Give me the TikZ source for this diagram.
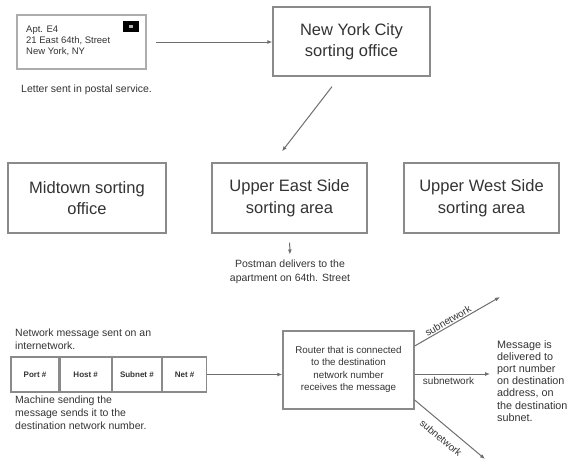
\documentclass[tikz,border=0pt]{standalone}
\usepackage{fontspec}
\setmainfont{Liberation Sans}
\usetikzlibrary{arrows.meta}
\definecolor{txt}{HTML}{333333}
\definecolor{bord}{HTML}{8A8A8A}
\tikzset{
  bigbox/.style={draw=bord, line width=1.3pt, text=txt, align=center, inner sep=0pt,
    font=\fontsize{16.5}{21.5}\selectfont},
  smalltext/.style={text=txt, align=left, inner sep=0pt, font=\fontsize{10.5}{13}\selectfont},
  cell/.style={draw=bord, line width=1.2pt, text=txt, inner sep=0pt, font=\bfseries\fontsize{8}{10}\selectfont},
  arr/.style={draw=bord!80!black, line width=1pt, -{Latex[length=5pt,width=4pt]}},
  lbl/.style={text=txt, inner sep=1pt, font=\fontsize{10}{12}\selectfont}
}
\begin{document}
\begin{tikzpicture}[x=1pt,y=-1pt]
\useasboundingbox (0,0) rectangle (571,461);
% letter
\node[draw=bord!70, line width=1.3pt, minimum width=129pt, minimum height=54pt, inner sep=0pt] (letter) at (81.5,42) {};
\node[fill=black, minimum width=16pt, minimum height=11pt, inner sep=0pt] (stamp) at (131,26) {};
\node[fill=gray!60, minimum width=4pt, minimum height=3pt, inner sep=0pt] (stampmark) at (131,26) {};
\node[smalltext, anchor=north west, font=\fontsize{9.5}{11}\selectfont] (addr) at (26,25.5) {Apt. E4\\21 East 64th, Street\\New York, NY};
\node[smalltext, anchor=west] (lettercap) at (21,90) {Letter sent in postal service.};
% NYC
\node[bigbox, minimum width=157pt, minimum height=69pt] (nyc) at (351.5,41.5) {New York City\\sorting office};
\draw[arr, shorten <=9pt] (letter.east) -- (nyc.west |- letter.east);
% second row
\node[bigbox, minimum width=158pt, minimum height=70pt] (mid) at (87,198) {Midtown sorting\\office};
\node[bigbox, minimum width=155pt, minimum height=70pt] (ues) at (289.5,198) {Upper East Side\\sorting area};
\node[bigbox, minimum width=155pt, minimum height=70pt] (uws) at (481.5,198) {Upper West Side\\sorting area};
\draw[arr] ([shift={(-19.5,10)}]nyc.south) -- ([shift={(-7.5,-11)}]ues.north);
\node[smalltext, align=center, anchor=north, font=\fontsize{10.5}{14}\selectfont] (postman) at (290,259.5) {Postman delivers to the\\apartment on 64th. Street};
\draw[arr, shorten <=9pt, shorten >=5pt] (ues.south) -- (postman.north);
% network
\node[smalltext, anchor=north west] (netmsg) at (15,328.5) {Network message sent on an\\internetwork.};
\node[cell, minimum width=48pt, minimum height=35pt] (port) at (35,374.5) {Port \#};
\node[cell, minimum width=51pt, minimum height=35pt, anchor=west] (host) at (port.east) {Host \#};
\node[cell, minimum width=49pt, minimum height=35pt, anchor=west] (subnet) at (host.east) {Subnet \#};
\node[cell, minimum width=44pt, minimum height=35pt, anchor=west] (net) at (subnet.east) {Net \#};
\node[smalltext, anchor=north west] (machine) at (15,396) {Machine sending the\\message sends it to the\\destination network number.};
\node[draw=bord, line width=1.3pt, minimum width=131pt, minimum height=78pt, inner sep=0pt] (router) at (348.5,370) {};
\node[smalltext, align=center, font=\fontsize{9.8}{12.3}\selectfont] (routertext) at (348.5,369.5) {Router that is connected\\to the destination\\network number\\receives the message};
\draw[arr] (net.east) -- (router.west |- net.east);
\coordinate (up) at (500,297);
\coordinate (mi) at (490,374);
\coordinate (lo) at (485,459);
\draw[arr] ([yshift=24pt]router.east) -- (up) node[lbl, pos=0.42, sloped, above] {subnetwork};
\draw[arr] ([yshift=-4pt]router.east) -- (mi) node[lbl, pos=0.45, below=2pt] {subnetwork};
\draw[arr] ([yshift=-30pt]router.east) -- (lo);
\node[lbl, rotate=-40] (lolbl) at (441,438) {subnetwork};
\node[smalltext, anchor=north west, font=\fontsize{10.8}{12.2}\selectfont] (deliver) at (497,340) {Message is\\delivered to\\port number\\on destination\\address, on\\the destination\\subnet.};
\end{tikzpicture}
\end{document}
